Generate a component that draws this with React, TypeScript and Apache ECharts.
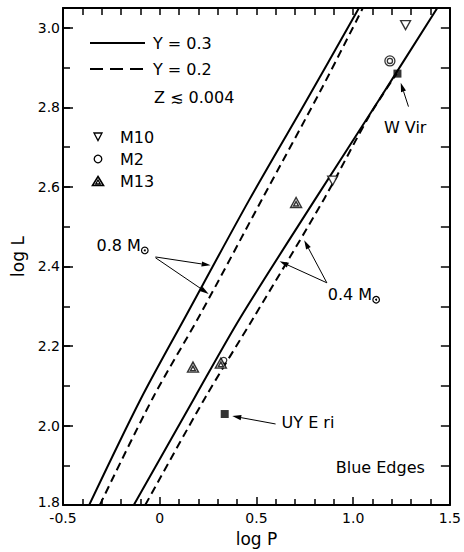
import { useEffect, useRef } from 'react';
import * as echarts from 'echarts';

const FONT = '"DejaVu Sans", Verdana, sans-serif';

// Blue-edge tracks in the (log P, log L) plane
const edge08Y03 = [[-0.365, 1.8], [-0.1, 2.065], [0.14, 2.28], [0.46, 2.565], [0.75, 2.81], [1.03, 3.05]];
const edge08Y02 = [[-0.31, 1.8], [-0.035, 2.07], [0.21, 2.28], [0.53, 2.57], [0.84, 2.85], [1.05, 3.05]];
const edge04Y03 = [[-0.134, 1.8], [0.18, 2.07], [0.415, 2.27], [0.805, 2.57], [1.135, 2.82], [1.435, 3.05]];
const edge04Y02 = [[-0.075, 1.8], [0.235, 2.07], [0.49, 2.275], [0.85, 2.57], [1.085, 2.78], [1.225, 2.885]];

// Observed stars
const m10Stars = [[1.271, 3.007], [0.894, 2.616]];
const m2Stars = [[1.19, 2.917]];
const m2Single = [[0.331, 2.164]];
const m13Stars = [[0.705, 2.561], [0.172, 2.147], [0.316, 2.157]];
const wVir = [[1.229, 2.885]];
const uyEri = [[0.336, 2.029]];

// Tick labels
const xTickLabels = ['-0.5', '0', '0.5', '1.0', '1.5'];
const yTickLabels = ['1.8', '2.0', '2.2', '2.4', '2.6', '2.8', '3.0'];

// Annotation texts (anchored at their left edge) and their arrows, in data units
const annotations = [
  { text: '0.8 M', sun: true, at: [-0.327, 2.453], arrows: [[[-0.022, 2.424], [0.263, 2.403]], [[-0.022, 2.422], [0.253, 2.331]]] },
  { text: '0.4 M', sun: true, at: [0.869, 2.329], arrows: [[[0.864, 2.359], [0.62, 2.413]], [[0.864, 2.359], [0.747, 2.466]]] },
  { text: 'W Vir', sun: false, at: [1.159, 2.75], arrows: [[[1.286, 2.802], [1.246, 2.862]]] },
  { text: 'UY E ri', sun: false, at: [0.63, 2.007], arrows: [[[0.599, 2.004], [0.375, 2.024]]] },
  { text: 'Blue Edges', sun: false, at: [0.91, 1.895], arrows: [] },
];

const M2_PATH = 'path://M10,5A5,5,0,1,1,0,5A5,5,0,1,1,10,5ZM7.6,5A2.6,2.6,0,1,1,2.4,5A2.6,2.6,0,1,1,7.6,5Z';
const M13_PATH = 'path://M5,0L10,9L0,9ZM5,3.6L7.2,7.6L2.8,7.6Z';

function textWidth(text: string, font: string) {
  const ctx = document.createElement('canvas').getContext('2d');
  if (!ctx) return text.length * 9;
  ctx.font = font;
  return ctx.measureText(text).width;
}

export default function App() {
  const ref = useRef<HTMLDivElement>(null);

  useEffect(() => {
    const chart = echarts.init(ref.current!, null, { renderer: 'svg' });
    const black = '#000';
    const frame = { show: true, onZero: false, lineStyle: { color: black, width: 2 } };
    const tickStyle = { color: black, width: 1.5 };

    const lineSeries = (name: string, data: number[][], dashed: boolean) => ({
      name,
      type: 'line',
      data,
      smooth: 0.3,
      symbol: 'none',
      silent: true,
      z: 2,
      lineStyle: { color: black, width: 2, type: dashed ? [8, 5] : 'solid' },
    });

    chart.setOption({
      animation: false,
      backgroundColor: '#fff',
      grid: { left: 63, right: 8, top: 8, bottom: 43, show: false },
      xAxis: [
        {
          type: 'value', position: 'bottom', min: -0.5, max: 1.5, interval: 0.5,
          axisLine: frame,
          axisTick: { show: true, inside: true, length: 8, lineStyle: tickStyle },
          minorTick: { show: true, splitNumber: 5, length: 6, lineStyle: tickStyle },
          splitLine: { show: false },
          axisLabel: {
            color: black, fontSize: 14, fontFamily: FONT, margin: 6,
            formatter: (v: number) => xTickLabels[Math.round((v + 0.5) / 0.5)] ?? '',
          },
          name: 'log P', nameLocation: 'middle', nameGap: 21,
          nameTextStyle: { color: black, fontSize: 17, fontFamily: FONT },
        },
        {
          type: 'value', position: 'top', min: -0.5, max: 1.5, interval: 0.1,
          axisLine: frame,
          axisTick: { show: true, inside: true, length: 7, lineStyle: tickStyle },
          axisLabel: { show: false },
          splitLine: { show: false },
        },
      ],
      yAxis: [
        {
          type: 'value', position: 'left', min: 1.8, max: 3.05, interval: 0.2,
          axisLine: frame,
          axisTick: { show: true, inside: true, length: 10, lineStyle: tickStyle },
          splitLine: { show: false },
          axisLabel: {
            color: black, fontSize: 14, fontFamily: FONT, margin: 3, showMaxLabel: false,
            formatter: (v: number) => {
              const i = Math.round((v - 1.8) / 0.2);
              return i === 0 ? `{low|${yTickLabels[0]}}` : yTickLabels[i] ?? '';
            },
            rich: { low: { color: black, fontSize: 14, fontFamily: FONT, padding: [0, 0, 6, 0] } },
          },
          name: 'log L', nameLocation: 'middle', nameGap: 35,
          nameTextStyle: { color: black, fontSize: 17, fontFamily: FONT },
        },
        {
          type: 'value', position: 'left', min: 1.8, max: 3.05, interval: 0.1,
          axisLine: { show: false, onZero: false },
          axisTick: { show: true, inside: true, length: 7, lineStyle: tickStyle },
          axisLabel: { show: false },
          splitLine: { show: false },
        },
        {
          type: 'value', position: 'right', min: 1.8, max: 3.05, interval: 0.1,
          axisLine: frame,
          axisTick: { show: true, inside: true, length: 9, lineStyle: tickStyle },
          axisLabel: { show: false },
          splitLine: { show: false },
        },
      ],
      series: [
        lineSeries('Y = 0.3', edge08Y03, false),
        lineSeries('Y = 0.2', edge08Y02, true),
        lineSeries('Y = 0.3', edge04Y03, false),
        lineSeries('Y = 0.2', edge04Y02, true),
        {
          name: 'M10', type: 'scatter', data: m10Stars, symbol: 'triangle', symbolRotate: 180,
          symbolSize: [10, 9], z: 4,
          itemStyle: { color: '#fff', borderColor: black, borderWidth: 1.3 },
        },
        {
          name: 'M2', type: 'scatter', data: m2Stars, symbol: M2_PATH, symbolSize: 10, z: 4,
          itemStyle: { color: '#fff', borderColor: black, borderWidth: 1.3 },
        },
        {
          name: 'M2', type: 'scatter', data: m2Single, symbol: 'circle', symbolSize: 6, z: 4,
          itemStyle: { color: '#fff', borderColor: black, borderWidth: 1.3 },
        },
        {
          name: 'M13', type: 'scatter', data: m13Stars, symbol: M13_PATH, symbolSize: [11, 10], z: 5,
          itemStyle: { color: '#fff', borderColor: black, borderWidth: 1.4 },
        },
        {
          name: 'W Vir', type: 'scatter', data: wVir, symbol: 'rect', symbolSize: 8, z: 5,
          itemStyle: { color: black },
        },
        {
          name: 'UY Eri', type: 'scatter', data: uyEri, symbol: 'rect', symbolSize: 8, z: 5,
          itemStyle: { color: black },
        },
      ],
    });

    const toPx = (p: number[]) => chart.convertToPixel({ gridIndex: 0 }, p) as number[];
    const labelFont = `16px ${FONT}`;
    const g: any[] = [];

    // Key: line styles and cluster symbols
    g.push({ type: 'line', shape: { x1: 90, y1: 43, x2: 145, y2: 43 }, style: { stroke: black, lineWidth: 2 } });
    g.push({ type: 'line', shape: { x1: 90, y1: 69, x2: 145, y2: 69 }, style: { stroke: black, lineWidth: 2, lineDash: [13, 7] } });
    const keyText = (text: string, x: number, y: number) =>
      g.push({ type: 'text', style: { text, x, y, font: labelFont, fill: black, textAlign: 'left', textVerticalAlign: 'middle' } });
    keyText('Y = 0.3', 153, 43);
    keyText('Y = 0.2', 153, 69);
    keyText('Z \u2272 0.004', 154, 97);
    g.push({ type: 'polygon', shape: { points: [[94, 133], [102, 133], [98, 140.5]] }, style: { fill: '#fff', stroke: black, lineWidth: 1.3 } });
    keyText('M10', 120, 137);
    g.push({ type: 'circle', shape: { cx: 98, cy: 159, r: 3.8 }, style: { fill: '#fff', stroke: black, lineWidth: 1.3 } });
    keyText('M2', 120, 159);
    g.push({ type: 'polygon', shape: { points: [[98, 176.5], [103.5, 185.5], [92.5, 185.5]] }, style: { fill: '#fff', stroke: black, lineWidth: 1.6 } });
    g.push({ type: 'polygon', shape: { points: [[98, 180], [100.3, 184], [95.7, 184]] }, style: { fill: '#fff', stroke: black, lineWidth: 1.3 } });
    keyText('M13', 120, 181);

    // Labels with arrows
    annotations.forEach((a) => {
      const [tx, ty] = toPx(a.at);
      g.push({ type: 'text', style: { text: a.text, x: tx, y: ty, font: labelFont, fill: black, textAlign: 'left', textVerticalAlign: 'middle' } });
      if (a.sun) {
        const cx = tx + textWidth(a.text, labelFont) + 4;
        const cy = ty + 5;
        g.push({ type: 'circle', shape: { cx, cy, r: 3.3 }, style: { fill: 'none', stroke: black, lineWidth: 1.2 } });
        g.push({ type: 'circle', shape: { cx, cy, r: 1 }, style: { fill: black } });
      }
      a.arrows.forEach(([from, to]) => {
        const [x1, y1] = toPx(from);
        const [x2, y2] = toPx(to);
        const ang = Math.atan2(y2 - y1, x2 - x1);
        const len = 9;
        const hw = 2.6;
        const bx = x2 - len * Math.cos(ang);
        const by = y2 - len * Math.sin(ang);
        g.push({ type: 'line', shape: { x1, y1, x2: bx, y2: by }, style: { stroke: black, lineWidth: 1 } });
        g.push({
          type: 'polygon',
          shape: {
            points: [
              [x2, y2],
              [bx + hw * Math.sin(ang), by - hw * Math.cos(ang)],
              [bx - hw * Math.sin(ang), by + hw * Math.cos(ang)],
            ],
          },
          style: { fill: black },
        });
      });
    });

    chart.setOption({ graphic: g });
    return () => chart.dispose();
  }, []);

  return (
    <div
      ref={ref}
      style={{ position: 'fixed', left: 0, top: 0, width: 464, height: 552, background: '#fff' }}
    />
  );
}
